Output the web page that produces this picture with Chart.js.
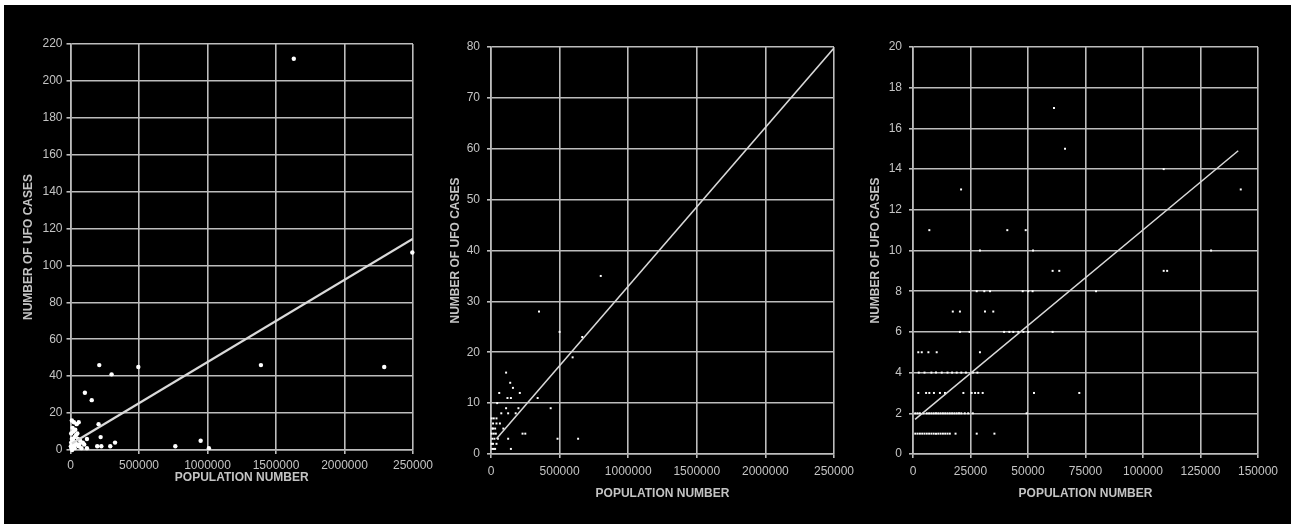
<!DOCTYPE html>
<html>
<head>
<meta charset="utf-8">
<title>UFO cases vs population</title>
<script src="https://cdn.jsdelivr.net/npm/chart.js@4/dist/chart.umd.min.js"></script>
<style>
  body { margin: 0; background: #fff; width: 1295px; height: 529px; overflow: hidden; position: relative; }
  .frame { position: absolute; left: 4px; top: 5px; width: 1287px; height: 519px; background: #000; }
  canvas { position: absolute; top: 0; }
  #chart1 { left: 0; }
  #chart2 { left: 440px; }
  #chart3 { left: 860px; }
</style>
</head>
<body>
<div class="frame"></div>
<canvas id="chart1" width="440" height="529"></canvas>
<canvas id="chart2" width="420" height="529"></canvas>
<canvas id="chart3" width="431" height="529"></canvas>
<script>
// ---------------- Data ----------------
const yTitle = 'NUMBER OF UFO CASES';
const xTitle = 'POPULATION NUMBER';

// Panel 1: all towns
const pop1 = [1630000, 2495000, 210000, 495000, 1390000, 2290000, 300000, 105000, 155000, 205000,
  220000, 325000, 290000, 195000, 225000, 950000, 765000, 1010000, 120000,
  10000, 25000, 45000, 60000, 15000, 35000, 20000, 5000, 40000, 30000,
  10000, 55000, 20000, 70000, 5000, 35000, 90000, 15000, 45000, 25000,
  60000, 8000, 30000, 80000, 100000, 120000, 12000, 3000, 50000, 65000];
const ufo1 = [212, 107, 46, 45, 46, 45, 41, 31, 27, 14,
  7, 4, 2, 2, 2, 5, 2, 1, 1,
  16, 15, 14, 15, 12, 11, 10, 9, 8, 7,
  6, 6, 5, 5, 4, 4, 4, 3, 3, 2,
  2, 1, 1, 1, 3, 6, 0, 2, 9, 3];
const xLabels1 = ['0', '500000', '1000000', '1500000', '2000000', '250000'];
const trend1 = [[10000, 3.5], [2500000, 114.5]];

// Panel 2
const pop2 = [800000, 350000, 500000, 665000, 595000, 110000, 140000, 160000, 60000, 210000,
  120000, 145000, 340000, 45000, 110000, 435000, 200000, 75000, 125000, 180000,
  40000, 65000, 90000, 15000, 230000, 250000, 125000, 485000, 635000, 145000,
  10000, 20000, 30000, 5000, 15000, 40000, 10000, 25000, 50000, 5000,
  20000, 35000, 10000, 30000, 15000, 40000, 20000, 5000];
const ufo2 = [35, 28, 24, 23, 19, 16, 14, 13, 12, 12,
  11, 11, 11, 10, 9, 9, 9, 8, 8, 8,
  7, 6, 5, 5, 4, 4, 3, 3, 3, 1,
  1, 1, 1, 2, 2, 2, 3, 3, 3, 4,
  4, 4, 5, 5, 6, 6, 7, 7];
const xLabels2 = ['0', '500000', '1000000', '1500000', '2000000', '250000'];
const trend2 = [[40000, 3.0], [2500000, 79.8]];

// Panel 3: smaller towns
const pop3 = [1000, 2000, 3000, 4000, 5000, 6000, 7000, 8000, 9000, 10000, 11000, 12000, 13000, 14000, 15000, 16000, 18500, 27700, 35400,
  1000, 2000, 3000, 4500, 6000, 7000, 8000, 9000, 10000, 11000, 12000, 13000, 14000, 15000, 16000, 17000, 18000, 19000, 20000, 21000, 22500, 24000, 26000, 49400,
  2300, 5700, 7100, 9100, 11700, 13900, 21900, 25500, 27000, 28400, 30300, 52600, 72300,
  2500, 5000, 8000, 10000, 12500, 15000, 17000, 19000, 21000, 23000, 26000, 28000,
  2300, 3800, 6700, 10300, 29100,
  20400, 24600, 39600, 41900, 43600, 45800, 48000, 50100, 60700,
  17300, 20400, 31300, 34900,
  27700, 31000, 33500, 47700, 50100, 52000, 79600,
  60700, 63600, 109000, 110500,
  29100, 52200, 129600,
  7100, 41000, 49000,
  20900, 142500, 109000, 66100, 61300];
const ufo3 = [1, 1, 1, 1, 1, 1, 1, 1, 1, 1, 1, 1, 1, 1, 1, 1, 1, 1, 1,
  2, 2, 2, 2, 2, 2, 2, 2, 2, 2, 2, 2, 2, 2, 2, 2, 2, 2, 2, 2, 2, 2, 2, 2,
  3, 3, 3, 3, 3, 3, 3, 3, 3, 3, 3, 3, 3,
  4, 4, 4, 4, 4, 4, 4, 4, 4, 4, 4, 4,
  5, 5, 5, 5, 5,
  6, 6, 6, 6, 6, 6, 6, 6, 6,
  7, 7, 7, 7,
  8, 8, 8, 8, 8, 8, 8,
  9, 9, 9, 9,
  10, 10, 10,
  11, 11, 11,
  13, 13, 14, 15, 17];
const xLabels3 = ['0', '25000', '50000', '75000', '100000', '125000', '150000'];
const trend3 = [[900, 1.7], [141400, 14.9]];

// ---------------- Styling helpers ----------------
const gridColor = '#bdbdbd';
const textColor = '#c4c4c4';
const fontFamily = "'Liberation Sans', Arial, sans-serif";

function makeChart(id, pop, ufo, trend, xLabels, s) {
    const points = pop.map((x, i) => ({ x: x, y: ufo[i] }));
    const line = trend.map(p => ({ x: p[0], y: p[1] }));

    return new Chart(document.getElementById(id), {
        type: 'scatter',
        data: {
            datasets: [{
                data: line,
                showLine: true,
                pointRadius: 0,
                borderColor: '#d9d9d9',
                borderWidth: s.lineWidth
            }, {
                data: points,
                pointStyle: s.pointStyle,
                pointRadius: s.pointRadius,
                backgroundColor: '#ffffff',
                borderColor: '#ffffff',
                borderWidth: 0,
                clip: false
            }]
        },
        options: {
            responsive: false,
            animation: false,
            devicePixelRatio: 1,
            layout: { padding: s.padding },
            plugins: { legend: { display: false }, tooltip: { enabled: false } },
            scales: {
                x: {
                    type: 'linear',
                    min: 0,
                    max: s.xMax,
                    afterFit: (scale) => { scale.height = s.xHeight; },
                    ticks: {
                        stepSize: s.xStep,
                        autoSkip: false,
                        maxRotation: 0,
                        padding: s.xTickPad,
                        color: textColor,
                        font: { family: fontFamily, size: 12 },
                        callback: (v, i) => xLabels[i]
                    },
                    grid: { color: gridColor, lineWidth: 1.6, tickLength: 4 },
                    border: { color: gridColor, width: 1.6 },
                    title: {
                        display: true,
                        text: xTitle,
                        color: textColor,
                        padding: 0,
                        font: { family: fontFamily, size: 12, weight: 'bold' }
                    }
                },
                y: {
                    type: 'linear',
                    min: 0,
                    max: s.yMax,
                    afterFit: (scale) => { scale.width = s.yWidth; },
                    ticks: {
                        stepSize: s.yStep,
                        padding: s.yTickPad,
                        color: textColor,
                        font: { family: fontFamily, size: 12 }
                    },
                    grid: { color: gridColor, lineWidth: 1.6, tickLength: 4 },
                    border: { color: gridColor, width: 1.6 },
                    title: {
                        display: true,
                        text: yTitle,
                        color: textColor,
                        padding: 0,
                        font: { family: fontFamily, size: 12, weight: 'bold' }
                    }
                }
            }
        }
    });
}

// ---------------- Charts ----------------
makeChart('chart1', pop1, ufo1, trend1, xLabels1, {
    padding: { left: 21, top: 44, right: 27, bottom: 44 },
    yWidth: 49.5, xHeight: 35, xTickPad: 4, yTickPad: 4,
    xMax: 2500000, xStep: 500000, yMax: 220, yStep: 20,
    pointStyle: 'circle', pointRadius: 2.2, lineWidth: 2.2
});

makeChart('chart2', pop2, ufo2, trend2, xLabels2, {
    padding: { left: 8, top: 47, right: 25, bottom: 28 },
    yWidth: 43, xHeight: 47, xTickPad: 6, yTickPad: 7,
    xMax: 2500000, xStep: 500000, yMax: 80, yStep: 10,
    pointStyle: 'rect', pointRadius: 1.4, lineWidth: 1.5
});

makeChart('chart3', pop3, ufo3, trend3, xLabels3, {
    padding: { left: 8, top: 47, right: 33, bottom: 28 },
    yWidth: 45, xHeight: 47, xTickPad: 6, yTickPad: 7,
    xMax: 150000, xStep: 25000, yMax: 20, yStep: 2,
    pointStyle: 'rect', pointRadius: 1.4, lineWidth: 1.5
});
</script>
</body>
</html>
